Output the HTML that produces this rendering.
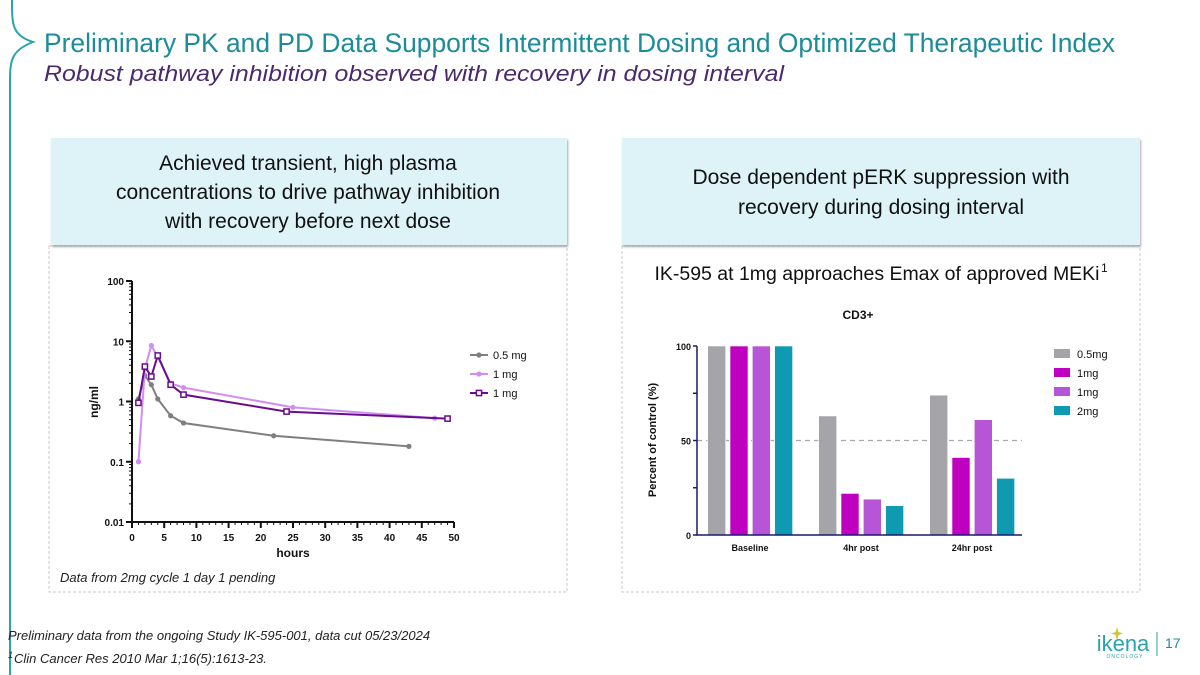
<!DOCTYPE html>
<html><head><meta charset="utf-8"><style>
body{margin:0;width:1200px;height:675px;background:#fff;overflow:hidden;font-family:"Liberation Sans",sans-serif}
svg{display:block}
</style></head><body>
<svg width="1200" height="675" viewBox="0 0 1200 675">
<path d="M12,0 C12,25 12,35 33,42 C12,50 10,60 10,80 L10,675" fill="none" stroke="#2aa3ad" stroke-width="2"/>
<text x="44" y="52" font-size="27" fill="#1c8c99" textLength="1071" lengthAdjust="spacingAndGlyphs">Preliminary PK and PD Data Supports Intermittent Dosing and Optimized Therapeutic Index</text>
<text x="44" y="81" font-size="22" font-style="italic" fill="#4b2a6b" textLength="740" lengthAdjust="spacingAndGlyphs">Robust pathway inhibition observed with recovery in dosing interval</text>

<rect x="49" y="246" width="518" height="346" fill="none" stroke="#c8c8c8" stroke-dasharray="3,2"/>
<rect x="622" y="246" width="518" height="346" fill="none" stroke="#c8c8c8" stroke-dasharray="3,2"/>
<rect x="51" y="138" width="516" height="107" fill="#ddf3f8" style="filter:drop-shadow(1px 2px 1px #aaa)"/>
<rect x="622" y="138" width="518" height="107" fill="#ddf3f8" style="filter:drop-shadow(1px 2px 1px #aaa)"/>
<g font-size="21" fill="#111" text-anchor="middle">
<text x="308" y="170">Achieved transient, high plasma</text>
<text x="308" y="199">concentrations to drive pathway inhibition</text>
<text x="308" y="228">with recovery before next dose</text></g>
<g font-size="21" fill="#111" text-anchor="middle">
<text x="881" y="184">Dose dependent pERK suppression with</text>
<text x="881" y="214">recovery during dosing interval</text></g>
<text x="877" y="280" font-size="19" fill="#111" text-anchor="middle" textLength="445" lengthAdjust="spacingAndGlyphs">IK-595 at 1mg approaches Emax of approved MEKi</text>
<text x="1101" y="272" font-size="12" fill="#111">1</text>
<text x="60" y="582" font-size="13" font-style="italic" fill="#222">Data from 2mg cycle 1 day 1 pending</text>
<text x="8" y="640" font-size="13" font-style="italic" fill="#222">Preliminary data from the ongoing Study IK-595-001, data cut 05/23/2024</text>
<text x="8" y="658" font-size="9" font-style="italic" fill="#222">1</text>
<text x="14" y="663" font-size="13" font-style="italic" fill="#222">Clin Cancer Res  2010 Mar 1;16(5):1613-23.</text>
<g>
<text x="1123" y="651" font-size="22" fill="#2aa3ad" text-anchor="middle">ikena</text>
<text x="1125" y="658" font-size="5" fill="#2aa3ad" text-anchor="middle" letter-spacing="1">ONCOLOGY</text>
<path d="M1117,627 L1118.5,632 L1123,633.5 L1118.5,635 L1117,640 L1115.5,635 L1111,633.5 L1115.5,632Z" fill="#c9c93a"/>
<line x1="1157" y1="632" x2="1157" y2="656" stroke="#2aa3ad"/>
<text x="1165" y="648" font-size="14" fill="#1c8c99">17</text></g>
<g id="pk"></g>
<g id="pd"></g>
</svg>
<script>
const pkSeriesNames=["0.5 mg","1 mg","1 mg"];
const pkHours05=[1,2,3,4,6,8,22,43];
const pkConc05=[1.1,2.7,1.9,1.1,0.58,0.44,0.27,0.18];
const pkHours1a=[1,2,3,4,6,8,25,47];
const pkConc1a=[0.1,3.5,8.5,5.5,2.0,1.7,0.8,0.53];
const pkHours1b=[1,2,3,4,6,8,24,49];
const pkConc1b=[0.95,3.8,2.6,5.8,1.9,1.3,0.68,0.52];
const pkXTicks=[0,5,10,15,20,25,30,35,40,45,50];
const pkYTicks=[0.01,0.1,1,10,100];
const pkYLabels=["0.01","0.1","1","10","100"];

const pdCategories=["Baseline","4hr post","24hr post"];
const pdSeriesNames=["0.5mg","1mg","1mg","2mg"];
const pd05=[100,63,74];
const pd1a=[100,22,41];
const pd1b=[100,19,61];
const pd2=[100,15.5,30];
const pdYTicks=[0,50,100];

const NS="http://www.w3.org/2000/svg";
function mk(p,t,a){const e=document.createElementNS(NS,t);for(const k in a)e.setAttribute(k,a[k]);p.appendChild(e);return e;}

// PK chart
const pk=document.getElementById('pk');
const X0=132,X1=454,Y100=281,Y001=522;
const px=h=>X0+(h/50)*(X1-X0);
const py=v=>Y001-(Math.log10(v)+2)/4*(Y001-Y100);
let ax=mk(pk,'path',{d:`M${X0},${Y100} L${X0},${Y001} L${X1},${Y001}`,fill:'none',stroke:'#111','stroke-width':2});


for(let d=-2;d<2;d++){for(let m=2;m<=9;m++){const y=py(m*Math.pow(10,d));mk(pk,'line',{x1:X0-3,x2:X0,y1:y,y2:y,stroke:'#111'});}}
pkYTicks.forEach((v,i)=>{const y=py(v);mk(pk,'line',{x1:X0-6,x2:X0,y1:y,y2:y,stroke:'#111','stroke-width':2});
 const t=mk(pk,'text',{x:X0-8,y:y+4,'font-size':10,'font-weight':'bold','text-anchor':'end',fill:'#111'});t.textContent=pkYLabels[i];
 
 });
for(let h=0;h<=50;h++){const x=px(h);mk(pk,'line',{x1:x,x2:x,y1:Y001,y2:Y001+(h%5?3:6),stroke:'#111','stroke-width':h%5?1:2});}
pkXTicks.forEach(h=>{const t=mk(pk,'text',{x:px(h),y:Y001+19,'font-size':10,'font-weight':'bold','text-anchor':'middle',fill:'#111'});t.textContent=h;
 
 });
let xt=mk(pk,'text',{x:293,y:557,'font-size':12,'font-weight':'bold','text-anchor':'middle',fill:'#111'});xt.textContent='hours';


let yt=mk(pk,'text',{x:0,y:0,'font-size':12,'font-weight':'bold','text-anchor':'middle',fill:'#111',transform:'translate(98,402) rotate(-90)'});yt.textContent='ng/ml';


const pkSeries=[[pkHours05,pkConc05,'#7f7f7f','circle'],[pkHours1a,pkConc1a,'#d18ef0','circle'],[pkHours1b,pkConc1b,'#6a0c8f','square']];
pkSeries.forEach(([hs,vs,c,shape],si)=>{
 const g=mk(pk,'g',{});
 
 
 mk(g,'polyline',{points:hs.map((h,i)=>px(h)+','+py(vs[i])).join(' '),fill:'none',stroke:c,'stroke-width':2});
 hs.forEach((h,i)=>{const x=px(h),y=py(vs[i]);
  const m=shape==='circle'?mk(g,'circle',{cx:x,cy:y,r:2.6,fill:c}):mk(g,'rect',{x:x-2.6,y:y-2.6,width:5.2,height:5.2,fill:'#fff',stroke:c,'stroke-width':1.5});
  
  });
 const ly=355+si*19;
 mk(g,'line',{x1:470,x2:488,y1:ly,y2:ly,stroke:c,'stroke-width':2});
 if(shape==='circle')mk(g,'circle',{cx:479,cy:ly,r:2.6,fill:c});else mk(g,'rect',{x:476.4,y:ly-2.6,width:5.2,height:5.2,fill:'#fff',stroke:c,'stroke-width':1.5});
 const lt=mk(g,'text',{x:493,y:ly+4,'font-size':11,fill:'#111'});lt.textContent=pkSeriesNames[si];
 
 
});

// PD chart
const pd=document.getElementById('pd');
const BX0=697,BX1=1022,BY0=535,BY100=346;
const by=v=>BY0-v/100*(BY0-BY100);
let tt=mk(pd,'text',{x:858,y:319,'font-size':12,'font-weight':'bold','text-anchor':'middle',fill:'#111'});tt.textContent='CD3+';


mk(pd,'line',{x1:BX0,x2:BX1,y1:by(50),y2:by(50),stroke:'#aaa','stroke-dasharray':'5,4','stroke-width':1.3});
const pdSeries=[pd05,pd1a,pd1b,pd2];
const pdColors=['#a5a4a9','#c000c0','#b655d6','#0f9ab2'];
const groupW=111,barW=18,barGap=22.3;
pdCategories.forEach((cat,ci)=>{
 pdSeries.forEach((s,si)=>{const x=707.7+ci*groupW+si*barGap,y=by(s[ci]);
  const r=mk(pd,'rect',{x:x,y:y,width:barW,height:BY0-y,fill:pdColors[si],stroke:'#fff','stroke-width':0.6});
  
  });
 const t=mk(pd,'text',{x:750+ci*groupW,y:551,'font-size':9,'font-weight':'bold','text-anchor':'middle',fill:'#111'});t.textContent=cat;
 
 
});
let pax=mk(pd,'path',{d:`M${BX0},${BY100} L${BX0},${BY0} L${BX1},${BY0}`,fill:'none',stroke:'#1a1a6e','stroke-width':1.5});


[0,25,50,75,100].forEach(v=>mk(pd,'line',{x1:BX0-4,x2:BX0,y1:by(v),y2:by(v),stroke:'#1a1a6e','stroke-width':1.5}));
pdYTicks.forEach(v=>{const t=mk(pd,'text',{x:BX0-6,y:by(v)+4,'font-size':9,'font-weight':'bold','text-anchor':'end',fill:'#111'});t.textContent=v;
 
 });
let pyt=mk(pd,'text',{x:0,y:0,'font-size':11,'font-weight':'bold','text-anchor':'middle',fill:'#111',transform:'translate(656,440) rotate(-90)'});pyt.textContent='Percent of control (%)';


pdSeriesNames.forEach((n,si)=>{const ly=349+si*19;
 const g=mk(pd,'g',{});
 
 
 mk(g,'rect',{x:1054,y:ly,width:16,height:9,fill:pdColors[si]});
 const t=mk(g,'text',{x:1077,y:ly+9,'font-size':11,fill:'#111'});t.textContent=n;});
</script>
</body></html>
